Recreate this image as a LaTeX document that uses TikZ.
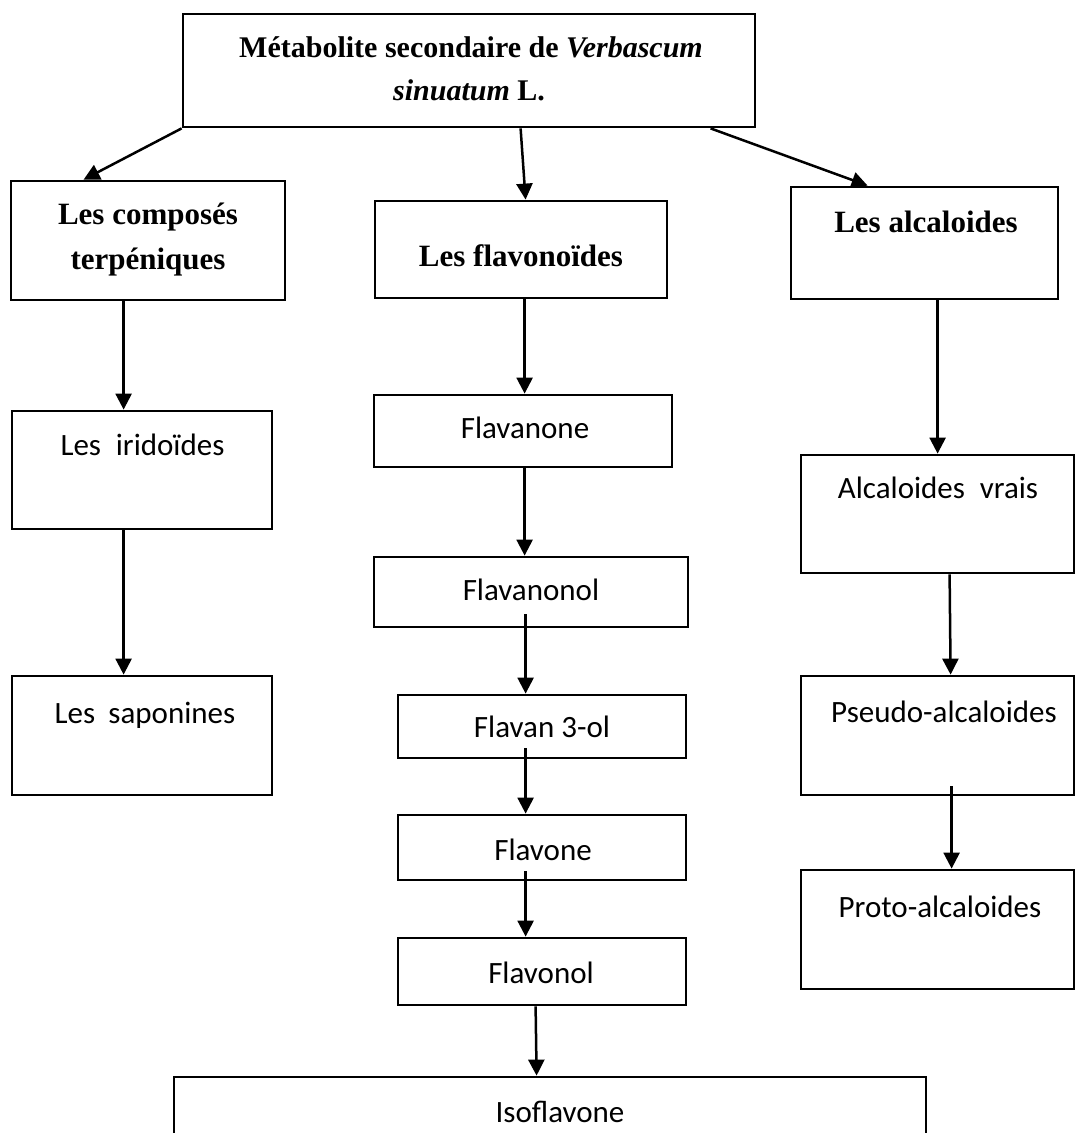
\documentclass[tikz,border=0pt]{standalone}
\usepackage{fontspec}
\setmainfont{Liberation Serif}
\newfontfamily\calfont{Carlito}
\usetikzlibrary{arrows.meta,calc}
\begin{document}
\begin{tikzpicture}[x=1pt,y=-1pt,
  box/.style={draw, line width=2.8pt, inner sep=0pt, rectangle},
  arr/.style={line width=2.5pt, -{Triangle[width=16pt,length=16pt]}},
  bt/.style={font=\fontsize{31}{36}\selectfont\bfseries, inner sep=0pt, anchor=base},
  tt/.style={font=\fontsize{30}{36}\selectfont\bfseries, inner sep=0pt, anchor=base},
  st/.style={font=\calfont\fontsize{31}{36}\selectfont, inner sep=0pt, anchor=base}]
\useasboundingbox[fill=white] (0,0) rectangle (1075,1133);

% boxes
\node[box, minimum width=572pt, minimum height=113pt] (top) at (469,70.5) {};
\node[box, minimum width=274pt, minimum height=119pt] (comp) at (148,240.5) {};
\node[box, minimum width=292pt, minimum height=97pt] (flav) at (521,249.5) {};
\node[box, minimum width=267pt, minimum height=112pt] (alc) at (924.5,243) {};
\node[box, minimum width=260pt, minimum height=118pt] (irid) at (142,470) {};
\node[box, minimum width=260pt, minimum height=119pt] (sap) at (142,735.5) {};
\node[box, minimum width=298pt, minimum height=72pt] (fnone) at (523,431) {};
\node[box, minimum width=314pt, minimum height=70pt] (fnol) at (531,592) {};
\node[box, minimum width=288pt, minimum height=63pt] (f3ol) at (542,726.5) {};
\node[box, minimum width=288pt, minimum height=65pt] (fone) at (542,847.5) {};
\node[box, minimum width=288pt, minimum height=67pt] (flol) at (542,971.5) {};
\node[box, minimum width=752pt, minimum height=83pt] (iso) at (550,1118.5) {};
\node[box, minimum width=273pt, minimum height=118pt] (vrais) at (937.5,514) {};
\node[box, minimum width=273pt, minimum height=119pt] (pseudo) at (937.5,735.5) {};
\node[box, minimum width=273pt, minimum height=119pt] (proto) at (937.5,929.5) {};

% texts
\node[tt] (t1a) at (471,57) {Métabolite secondaire de \textit{Verbascum}};
\node[tt] (t1b) at (469,100) {\textit{sinuatum} L.};
\node[bt] (t2a) at (148,224) {Les composés};
\node[bt] (t2b) at (148,269) {terpéniques};
\node[bt] (t3) at (521,266) {Les flavonoïdes};
\node[bt] (t4) at (926,232) {Les alcaloides};
\node[st] (t5) at (142.5,455) {Les\hspace{0.25em} iridoïdes};
\node[st] (t6) at (145,723) {Les\hspace{0.2em} saponines};
\node[st] (t7) at (525,438) {Flavanone};
\node[st] (t8) at (531,600) {Flavanonol};
\node[st] (t9) at (542,737) {Flavan 3-ol};
\node[st] (t10) at (543,860) {Flavone};
\node[st] (t11) at (541,983) {Flavonol};
\node[st] (t12) at (560,1122) {Isoflavone};
\node[st] (t13) at (938,498) {Alcaloides\hspace{0.25em} vrais};
\node[st] (t14) at (944,722) {Pseudo-alcaloides};
\node[st] (t15) at (940,917) {Proto-alcaloides};

% arrows
\draw[arr] (top.south west) -- ($(comp.north west)+(74,0)$);
\draw[arr] ($(top.south west)+(339,0)$) -- ($(flav.north west)+(152,0)$);
\draw[arr] ($(top.south west)+(529,0)$) -- ($(alc.north west)+(78,0)$);
\draw[arr] ($(comp.south west)+(114,0)$) -- ($(irid.north west)+(113,0)$);
\draw[arr] ($(irid.south west)+(113,0)$) -- ($(sap.north west)+(113,0)$);
\draw[arr] ($(flav.south west)+(151,0)$) -- ($(fnone.north west)+(152,0)$);
\draw[arr] ($(fnone.south west)+(152,0)$) -- ($(fnol.north west)+(152,0)$);
\draw[arr] ($(fnol.south west)+(153,-14)$) -- ($(f3ol.north west)+(129,0)$);
\draw[arr] ($(f3ol.south west)+(129,-11)$) -- ($(fone.north west)+(129,0)$);
\draw[arr] ($(fone.south west)+(129,-10)$) -- ($(flol.north west)+(129,0)$);
\draw[arr] ($(flol.south west)+(139,0)$) -- ($(iso.north west)+(364,0)$);
\draw[arr] ($(alc.south west)+(148,0)$) -- ($(vrais.north west)+(138,0)$);
\draw[arr] ($(vrais.south west)+(150,0)$) -- ($(pseudo.north west)+(151,0)$);
\draw[arr] ($(pseudo.south west)+(152,-10)$) -- ($(proto.north west)+(152,0)$);
\end{tikzpicture}
\end{document}
